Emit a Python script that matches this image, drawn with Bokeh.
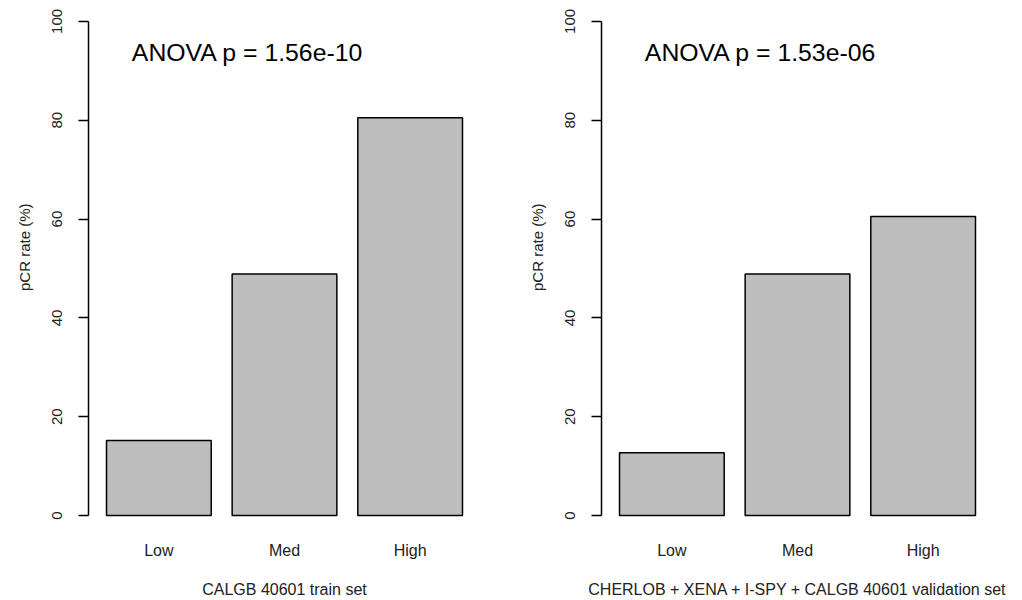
import math
from bokeh.plotting import figure
from bokeh.models import Range1d, FactorRange, FixedTicker, Label, Title
from bokeh.layouts import row
from bokeh.embed import file_html
from bokeh.resources import INLINE

# ---- data -------------------------------------------------------------
categories = ["Low", "Med", "High"]
train_pcr = [15.2, 48.9, 80.5]
valid_pcr = [12.7, 48.9, 60.5]
y_ticks = [0, 20, 40, 60, 80, 100]
train_title = "CALGB 40601 train set"
valid_title = "CHERLOB + XENA + I-SPY + CALGB 40601 validation set"
train_anova = "ANOVA p = 1.56e-10"
valid_anova = "ANOVA p = 1.53e-06"
y_label = "pCR rate (%)"

FONT = "Liberation Sans"
BAR_FILL = "#bebebe"


def panel(values, xtitle, anova, border_left, border_right):
    p = figure(
        width=511, height=600,
        x_range=FactorRange(factors=categories, range_padding=0.06,
                            range_padding_units="absolute"),
        y_range=Range1d(-4.04, 104.24),
        output_backend="svg", toolbar_location=None,
        min_border_left=border_left, min_border_right=border_right,
        min_border_top=0, min_border_bottom=64,
    )
    p.vbar(x=categories, top=values, bottom=0, width=1 / 1.2,
           fill_color=BAR_FILL, line_color="black", line_width=1.5)

    p.xgrid.visible = False
    p.ygrid.visible = False
    p.outline_line_color = None
    p.background_fill_color = "white"
    p.border_fill_color = "white"

    # y axis (R style: rotated labels, axis only spanning the ticks)
    ya = p.yaxis[0]
    ya.ticker = FixedTicker(ticks=y_ticks)
    ya.bounds = (0, 100)
    ya.axis_line_color = "black"
    ya.axis_line_width = 1.5
    ya.major_tick_line_color = "black"
    ya.major_tick_line_width = 1.5
    ya.major_tick_out = 10
    ya.major_tick_in = 0
    ya.minor_tick_line_color = None
    ya.major_label_orientation = "vertical"
    ya.major_label_standoff = 16
    ya.major_label_text_font = FONT
    ya.major_label_text_font_size = "15px"
    ya.major_label_text_color = "#222222"

    # x axis: just names under the bars, plus the set name
    xa = p.xaxis[0]
    xa.axis_line_color = None
    xa.major_tick_line_color = None
    xa.major_tick_out = 0
    xa.major_tick_in = 0
    xa.minor_tick_line_color = None
    xa.major_label_standoff = 6
    xa.major_label_text_font = FONT
    xa.major_label_text_font_size = "16px"
    xa.major_label_text_color = "#222222"
    xa.axis_label = xtitle
    xa.axis_label_standoff = 19
    xa.axis_label_text_font = FONT
    xa.axis_label_text_font_size = "16px"
    xa.axis_label_text_font_style = "normal"
    xa.axis_label_text_color = "#222222"

    p.add_layout(Label(x=0.285, y=93.7, text=anova, text_font=FONT,
                       text_font_size="24.8px", text_color="black",
                       text_align="left", text_baseline="alphabetic"))

    t = Title(text=y_label, align="right", offset=203, vertical_align="top",
              text_font=FONT, text_font_size="15px",
              text_font_style="normal", text_color="#222222")
    if "standoff" in Title.properties():
        t.standoff = 30
    p.add_layout(t, "left")
    return p


p1 = panel(train_pcr, train_title, train_anova, 88, 31)
p2 = panel(valid_pcr, valid_title, valid_anova, 90, 29)
layout = row(p1, p2)

open("out.html", "w").write(file_html(layout, INLINE))
